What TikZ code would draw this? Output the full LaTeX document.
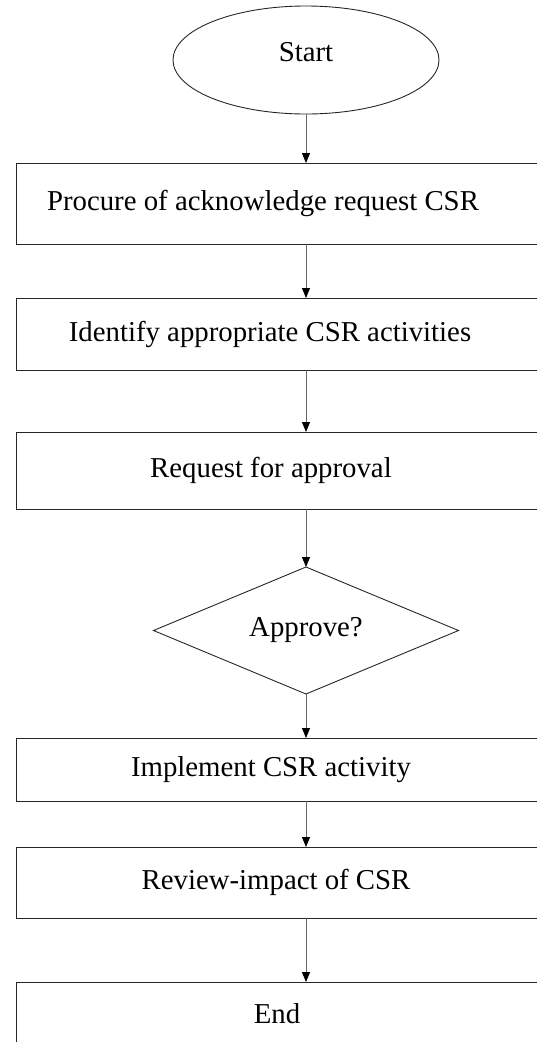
\documentclass[tikz,border=0pt]{standalone}
\usepackage{fontspec}
\setmainfont{Liberation Serif}
\usetikzlibrary{
	shapes.geometric,
	positioning,
	arrows.meta
}

\tikzset{
	flowbox/.style={rectangle, draw=black!85, line width=0.9pt, minimum width=580pt, inner sep=0pt, outer sep=0pt},
	flowtext/.style={inner sep=0pt, font=\fontsize{28.8}{34}\selectfont},
	flowline/.style={draw=black!60, line width=0.9pt, -{Triangle[width=8pt,length=10pt,black]}}
}

\begin{document}
\begin{tikzpicture}[x=1pt,y=1pt]
	\useasboundingbox (0,0) rectangle (536,-1042);

	\node [ellipse,draw=black!85,line width=0.9pt,minimum width=266pt,minimum height=108pt,
	       inner sep=0pt,outer sep=0pt,text depth=16pt,font=\fontsize{28.8}{34}\selectfont] (start) at (306,-60) {Start};
	\node [flowbox,minimum height=81pt,below=49pt of start]    (procure)   {};
	\node [flowbox,minimum height=72pt,below=54pt of procure]  (identify)  {};
	\node [flowbox,minimum height=77pt,below=62pt of identify] (request)   {};
	\node [diamond,aspect=2.4,draw=black!85,line width=0.9pt,minimum width=305pt,minimum height=127pt,
	       inner sep=0pt,outer sep=0pt,font=\fontsize{28.8}{34}\selectfont,below=58pt of request] (approve) {Approve?};
	\node [flowbox,minimum height=63pt,below=44pt of approve]  (implement) {};
	\node [flowbox,minimum height=71pt,below=46pt of implement] (review)   {};
	\node [flowbox,minimum height=64pt,below=64pt of review]   (end)       {};

	% box texts sit left of the box centres
	\node [flowtext,xshift=-43pt] (procuretxt)   at (procure)   {Procure of acknowledge request CSR};
	\node [flowtext,xshift=-36pt] (identifytxt)  at (identify)  {Identify appropriate CSR activities};
	\node [flowtext,xshift=-35pt] (requesttxt)   at (request)   {Request for approval};
	\node [flowtext,xshift=-35pt] (implementtxt) at (implement) {Implement CSR activity};
	\node [flowtext,xshift=-30pt] (reviewtxt)    at (review)    {Review-impact of CSR};
	\node [flowtext,xshift=-29pt] (endtxt)       at (end)       {End};

	\draw [flowline] (start)     -- (procure);
	\draw [flowline] (procure)   -- (identify);
	\draw [flowline] (identify)  -- (request);
	\draw [flowline] (request)   -- (approve);
	\draw [flowline] (approve)   -- (implement);
	\draw [flowline] (implement) -- (review);
	\draw [flowline] (review)    -- (end);
\end{tikzpicture}
\end{document}
